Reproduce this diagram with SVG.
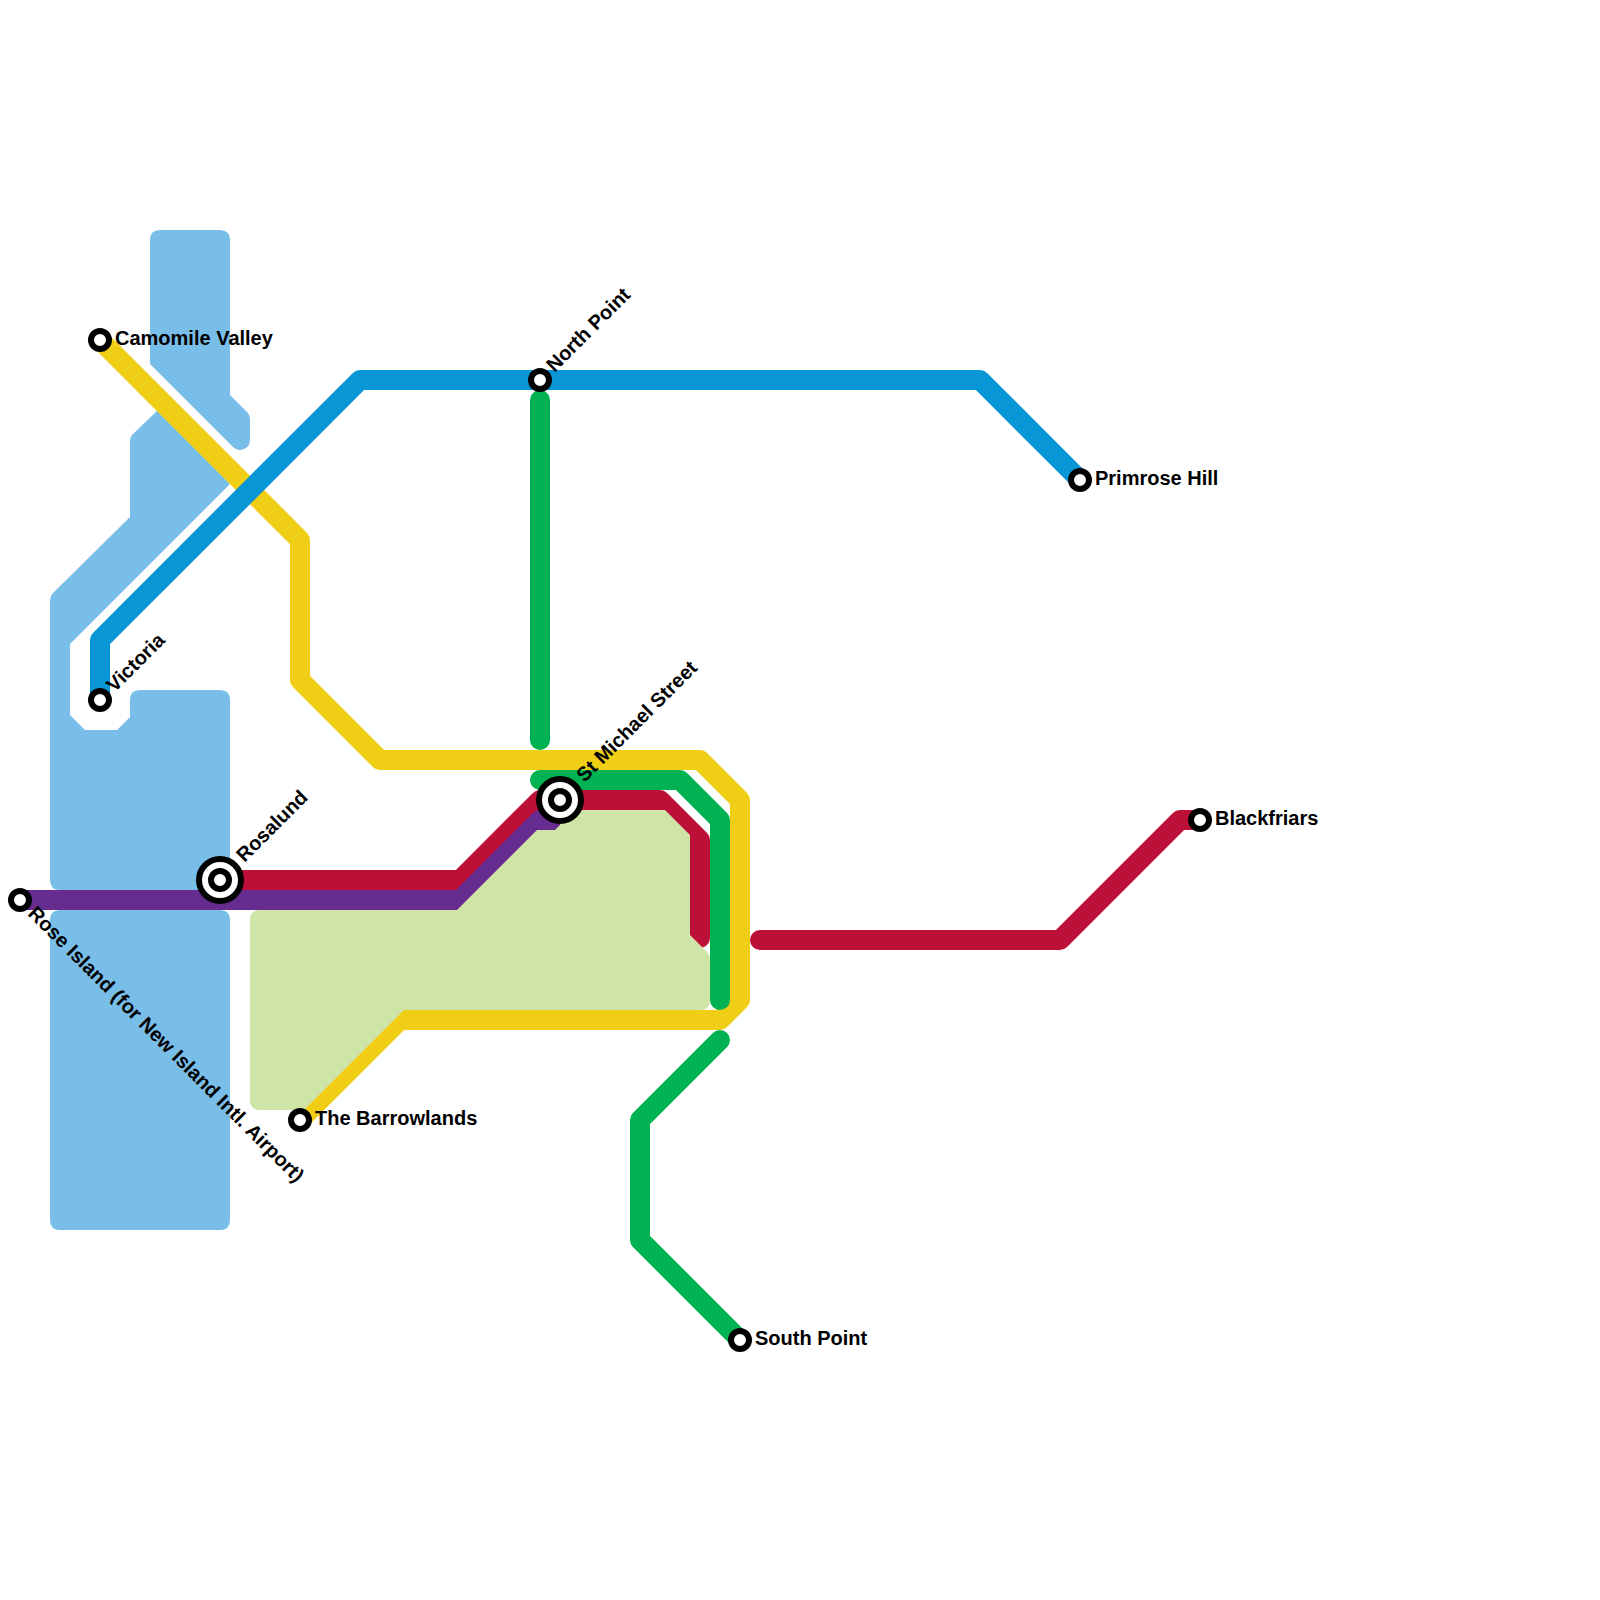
<svg xmlns="http://www.w3.org/2000/svg" width="1600" height="1600" viewBox="0 0 1600 1600">
<style>
.water{fill:#79bde9}
.land{fill:#cfe4a7}
.l{fill:none;stroke-width:20;stroke-linejoin:round}
.r{stroke-linecap:round}
.y{stroke:#f0ce15}.b{stroke:#0896d7}.g{stroke:#00b251}.c{stroke:#bd1038}.p{stroke:#662c90}
.s{fill:#fff;stroke:#000;stroke-width:6}
text{font-family:"Liberation Sans",Arial,sans-serif;font-weight:700;font-size:20px;fill:#000}
</style>
<rect width="1600" height="1600" fill="#fff"/>
<g id="water">
<path class="water" d="M160 230H220Q230 230 230 240V395L247 412Q250 415 250 420V440A10 10 0 0 1 233 447L150 364V240Q150 230 160 230Z"/>
<path class="water" d="M133 434L158 410L230 484L70 644V715L85 730H117L130 717V700Q130 690 140 690H220Q230 690 230 700V880Q230 890 220 890H60Q50 890 50 880V600Q50 596 53 593L130 517V440Q130 437 133 434Z"/>
<path class="water" d="M60 910H220Q230 910 230 920V1220Q230 1230 220 1230H60Q50 1230 50 1220V920Q50 910 60 910Z"/>
</g>
<g id="connectors">
<path class="l c r" d="M220 880H460L540 800H660L700 840V938"/>
<path class="l p" d="M20 900H460L540 820H560" stroke-linejoin="miter"/>
<path class="l y" d="M100 340L300 540V680L380 760H700L740 800V1000L720 1020H400L300 1120"/>
<path class="l b" d="M100 700V640L360 380H980L1080 480"/>
<path class="l g r" d="M540 400V740"/>
<path class="l g r" d="M540 780H680L720 820V1000"/>
<path class="l g r" d="M720 1040L640 1120V1240L740 1340"/>
<path class="l c r" d="M760 940H1060L1180 820H1200"/>
</g>
<g id="land">
<path class="land" d="M260 910H457L537 830H555L575 810H665L690 835V935L706 951Q710 955 710 960V1000Q710 1010 700 1010H404L304 1110H260Q250 1110 250 1100V920Q250 910 260 910Z"/>
</g>
<g id="st-camomile"><circle class="s" cx="100" cy="340" r="9"/><text x="115" y="345">Camomile Valley</text></g>
<g id="st-victoria"><circle class="s" cx="100" cy="700" r="9"/><text transform="translate(114.500 693) rotate(-45)">Victoria</text></g>
<g id="st-rose-island"><circle class="s" cx="20" cy="900" r="9"/><text transform="translate(27 914.500) rotate(45)">Rose Island (for New Island Intl. Airport)</text></g>
<g id="st-rosalund"><circle class="s" cx="220" cy="880" r="21"/><circle class="s" cx="220" cy="880" r="9"/><text transform="translate(244.500 863) rotate(-45)">Rosalund</text></g>
<g id="st-north-point"><circle class="s" cx="540" cy="380" r="9"/><text transform="translate(554.500 373) rotate(-45)">North Point</text></g>
<g id="st-st-michael"><circle class="s" cx="560" cy="800" r="21"/><circle class="s" cx="560" cy="800" r="9"/><text transform="translate(584.500 783) rotate(-45)">St Michael Street</text></g>
<g id="st-primrose"><circle class="s" cx="1080" cy="480" r="9"/><text x="1095" y="485">Primrose Hill</text></g>
<g id="st-blackfriars"><circle class="s" cx="1200" cy="820" r="9"/><text x="1215" y="825">Blackfriars</text></g>
<g id="st-south-point"><circle class="s" cx="740" cy="1340" r="9"/><text x="755" y="1345">South Point</text></g>
<g id="st-barrowlands"><circle class="s" cx="300" cy="1120" r="9"/><text x="315" y="1125">The Barrowlands</text></g>
</svg>
